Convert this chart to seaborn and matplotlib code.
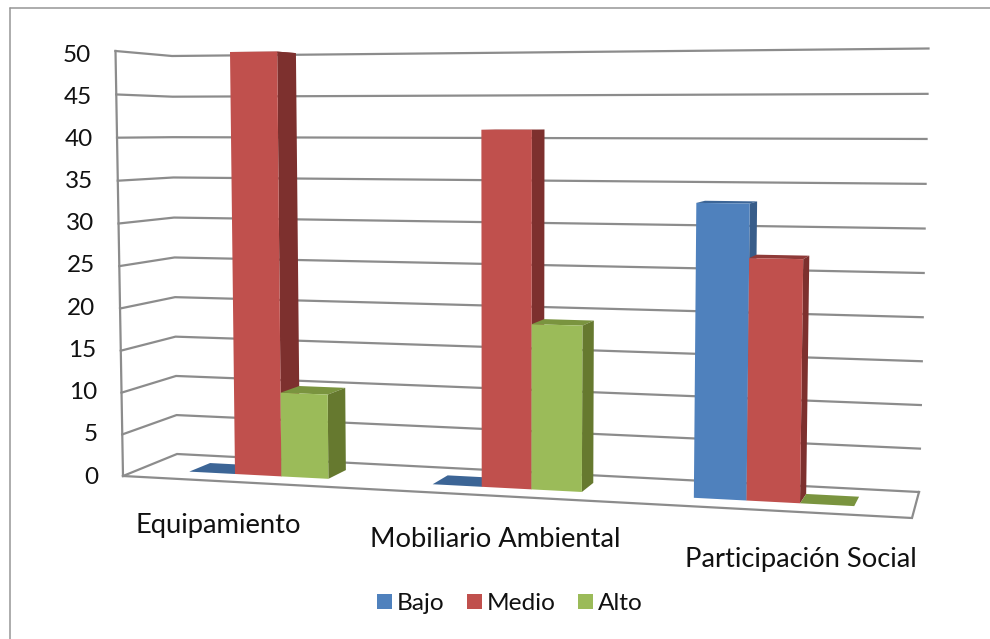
import numpy as np
import pandas as pd
import matplotlib
matplotlib.use("Agg")
import matplotlib.pyplot as plt
import matplotlib.transforms as mtransforms
from matplotlib.lines import Line2D
from matplotlib.patches import Polygon
import seaborn as sns

# Chart values
categories = ["Equipamiento", "Mobiliario Ambiental", "Participación Social"]
levels = ["Bajo", "Medio", "Alto"]
bajo = [0, 0, 33]
medio = [50, 41, 27]
alto = [10, 19, 0]
value_ticks = list(range(0, 55, 5))

# Colours of each level: front, side and top faces
front_colors = ["#4F81BD", "#C0504D", "#9BBB59"]
side_colors = ["#385D8A", "#7D302E", "#66792F"]
top_colors = ["#3C6596", "#8F3A38", "#7A943F"]
wall_color = "#8C8C8C"

# Scene geometry in pixels, y pointing down
W, H = 990, 639
FRONT_LEFT = [(123, 476), (115.5, 51)]
FRONT_RIGHT = [(912, 518)]
BACK_LEFT = [(177, 454), (172, 56)]
BACK_RIGHT = [(919, 492), (928.5, 48.5)]
VANISH = np.array([1057.0, 114.0])
BAR_DEPTH = 0.024
BAR_WIDTH = 0.58
WALL_FORESHORTENING = 1.025

PIXELS = mtransforms.Affine2D().scale(1, -1).translate(0, H)


def homography(src, dst):
    rows, rhs = [], []
    for (x, y), (u, v) in zip(src, dst):
        rows.append([x, y, 1, 0, 0, 0, -u * x, -u * y])
        rows.append([0, 0, 0, x, y, 1, -v * x, -v * y])
        rhs += [u, v]
    return np.append(np.linalg.solve(np.array(rows, float), np.array(rhs, float)), 1).reshape(3, 3)


class BarPlane(mtransforms.Transform):
    """Projects (category, value) on to the slanted plane of the bar fronts."""
    input_dims = 2
    output_dims = 2
    is_separable = False
    has_inverse = False

    def __init__(self, matrix):
        super().__init__()
        self.matrix = matrix

    def transform_non_affine(self, values):
        pts = np.column_stack([np.asarray(values, float), np.ones(len(values))]) @ self.matrix.T
        return pts[:, :2] / pts[:, 2:]


sns.set_style("white")
plt.rcParams["font.family"] = ["Lato", "DejaVu Sans"]

fig = plt.figure(figsize=(W / 100, H / 100), dpi=100)
ax = fig.add_axes([100 / W, 1 - 475 / H, 830 / W, (475 - 53) / H])
ax.patch.set_alpha(0)

table = pd.DataFrame({"Bajo": bajo, "Medio": medio, "Alto": alto}, index=categories)
long = table.rename_axis("categoria").reset_index().melt(
    id_vars="categoria", var_name="nivel", value_name="valor")

sns.barplot(data=long, x="categoria", y="valor", hue="nivel", order=categories,
            hue_order=levels, palette=front_colors, saturation=1, width=BAR_WIDTH,
            gap=0, linewidth=0, ax=ax)

# Bar plane anchored on the outer edges of the middle series
half = BAR_WIDTH / 6
plane_matrix = homography(
    [(-half, 0), (2 + half, 0), (-half, 50), (2 + half, 50)],
    [(235, 474), (800, 503.3), (230, 52), (806, 47)])
plane = BarPlane(plane_matrix)


def to_back(points):
    points = np.asarray(points, float)
    return points + BAR_DEPTH * (VANISH - points)


# Front faces come from the seaborn bars; depth faces are derived from them
for level, container in enumerate(ax.containers):
    for cat, bar in enumerate(container.patches):
        base = 3 + cat * 10 + level * 3
        x0, v0 = bar.get_x(), bar.get_y()
        x1, v1 = x0 + bar.get_width(), v0 + bar.get_height()
        bl, br, tr, tl = plane.transform_non_affine([(x0, v0), (x1, v0), (x1, v1), (x0, v1)])
        b_bl, b_br, b_tr, b_tl = to_back([bl, br, tr, tl])
        ax.add_patch(Polygon([tl, tr, b_tr, b_tl], closed=True, facecolor=top_colors[level],
                             edgecolor="none", transform=PIXELS, clip_on=False, zorder=base))
        ax.add_patch(Polygon([br, tr, b_tr, b_br], closed=True, facecolor=side_colors[level],
                             edgecolor="none", transform=PIXELS, clip_on=False, zorder=base + 1))
        bar.set_transform(plane + PIXELS)
        bar.set_clip_on(False)
        bar.set_zorder(base + 2)


# Walls and floor of the plot box
def edge(corners, value):
    low, high = np.array(corners[0], float), np.array(corners[1], float)
    t = value / 50
    t = t / (t + (1 - t) * WALL_FORESHORTENING)
    return low + (high - low) * t


def wall_line(points):
    xs, ys = zip(*points)
    ax.add_line(Line2D(xs, ys, color=wall_color, lw=1.6, transform=PIXELS, clip_on=False,
                       zorder=1, solid_joinstyle="miter", solid_capstyle="projecting"))


for v in value_ticks:
    wall_line([edge(FRONT_LEFT, v), edge(BACK_LEFT, v), edge(BACK_RIGHT, v)])
wall_line(FRONT_LEFT)
wall_line([FRONT_LEFT[0], FRONT_RIGHT[0], BACK_RIGHT[0]])

# Axis text
ax.set_xlim(-0.5, 2.5)
ax.set_ylim(0, 50)
ax.set_yticks(value_ticks)
ax.set_xlabel("")
ax.set_ylabel("")
ax.tick_params(axis="y", length=0, pad=6.5, labelsize=17.5, labelcolor="#111111")
ax.tick_params(axis="x", length=0, pad=0, labelsize=19.7, labelcolor="#111111")
for name in ax.spines:
    ax.spines[name].set_visible(False)

# Value labels lean with the left wall, category labels step down with the floor
for label, v in zip(ax.get_yticklabels(), value_ticks):
    label.set_transform(label.get_transform()
                        + mtransforms.Affine2D().translate(7.5 * (50 - v) / 50, 0))
label_shift = [(-20, -38), (-20, -52), (9, -72)]
for label, (dx, dy) in zip(ax.get_xticklabels(), label_shift):
    label.set_transform(label.get_transform() + mtransforms.Affine2D().translate(dx, dy))

sns.move_legend(ax, "center left", bbox_to_anchor=(377 / W, 1 - 604 / H),
                bbox_transform=fig.transFigure, ncol=3, frameon=False, title=None,
                fontsize=17.6, handlelength=0.614, handleheight=0.567, handletextpad=0.21,
                columnspacing=0.9, borderpad=0, borderaxespad=0, labelcolor="#111111")

# Chart area frame
for points in ([(9.5, H), (9.5, 7.5)], [(9.5, 7.5), (W, 7.5)]):
    xs, ys = zip(*points)
    fig.add_artist(Line2D(xs, ys, color="#969696", lw=1.1, transform=PIXELS))

fig.savefig("out.png", dpi=100)
